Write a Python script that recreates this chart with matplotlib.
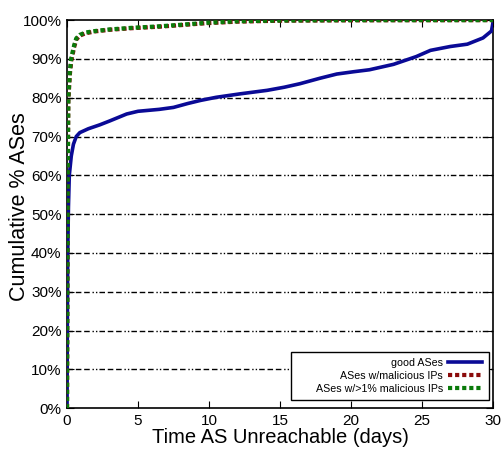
import matplotlib
matplotlib.use("Agg")
import matplotlib.pyplot as plt
from matplotlib.patches import Rectangle
from matplotlib.ticker import FuncFormatter

plt.rcParams['font.family'] = ['Liberation Sans', 'DejaVu Sans']

# time (days) vs cumulative % of ASes
good_days = [0, 0.02, 0.05, 0.1, 0.16, 0.3, 0.45, 0.65, 0.9, 1.5, 2.3, 3.0, 4.2, 5.0, 6.5, 7.5, 8.5,
             9.4, 10.5, 12.2, 14.1, 15.3, 16.4, 17.8, 19.0, 20.2, 21.3, 23.0, 24.6, 25.6, 27.0, 28.2, 29.3, 29.9, 30]
good_pct = [0, 20, 40, 52, 60, 65, 68, 70, 71, 72, 73, 74, 75.8, 76.5, 77, 77.5, 78.5,
            79.3, 80.1, 81.0, 81.9, 82.7, 83.6, 85.0, 86.1, 86.7, 87.2, 88.6, 90.6, 92.2, 93.2, 93.8, 95.4, 97.2, 99.3]

mal_days = [0, 0.02, 0.05, 0.09, 0.2, 0.3, 0.5, 0.65, 0.9, 1.3, 2, 3, 4.5, 6.5, 8, 9.8, 12, 15, 20, 30]
mal_pct = [0, 28, 57, 79, 86, 89.5, 93, 95, 96, 96.6, 97.1, 97.5, 97.9, 98.3, 98.7, 99.2, 99.6, 99.85, 99.95, 100]

mal1_days = [0, 0.02, 0.05, 0.09, 0.2, 0.3, 0.5, 0.65, 0.9, 1.3, 2, 3, 4.5, 6.5, 8, 9.8, 12, 15, 20, 30]
mal1_pct = [0, 30, 60, 80, 87, 90.3, 93.5, 95.3, 96.2, 96.8, 97.2, 97.6, 98, 98.4, 98.8, 99.3, 99.7, 99.9, 100, 100]

fig = plt.figure(figsize=(5.04, 4.57), dpi=100)
ax = fig.add_axes([0.133, 0.107, 0.845, 0.849])

grid_style = (0, (4, 2, 4, 2, 4, 2, 1, 1.5, 1, 1.5))
for v in range(10, 100, 10):
    ax.axhline(v, color='black', lw=1.0, linestyle=grid_style, zorder=1)

ax.plot(good_days, good_pct, color='#0a0a96', lw=2.6, label='good ASes', zorder=3)
ax.plot(mal_days, mal_pct, color='#8b0a0a', lw=3, linestyle=(0, (1, 0.7)),
        dash_capstyle='butt', label='ASes w/malicious IPs', zorder=3)
ax.plot(mal1_days, mal1_pct, color='#0a7a0a', lw=3, linestyle=(0, (1, 0.7)),
        dash_capstyle='butt', label='ASes w/>1% malicious IPs', zorder=4)

ax.set_xlim(0, 30)
ax.set_ylim(0, 100)
ax.set_xticks(range(0, 31, 5))
ax.set_yticks(range(0, 101, 10))
ax.yaxis.set_major_formatter(FuncFormatter(lambda v, p: f"{int(v)}%"))
ax.tick_params(direction='in', top=True, right=True, length=5, labelsize=11, pad=4)
for s in ax.spines.values():
    s.set_linewidth(1.2)

ax.set_xlabel('Time AS Unreachable (days)', fontsize=14.5, labelpad=0)
ax.set_ylabel('Cumulative % ASes', fontsize=15.5)
ax.yaxis.set_label_coords(-0.088, 0.52)

# gnuplot-style key box with wide left margin
ax.add_patch(Rectangle((0.526, 0.021), 0.465, 0.123, transform=ax.transAxes,
                       facecolor='white', edgecolor='black', lw=1.0, zorder=5))
leg = ax.legend(loc='lower right', markerfirst=False, fontsize=7.7, frameon=False,
                handlelength=3.2, handletextpad=0.45, borderpad=0, borderaxespad=0,
                labelspacing=0.3, bbox_to_anchor=(0.974, 0.036))
leg.set_zorder(6)

fig.savefig('out.png', dpi=100)
